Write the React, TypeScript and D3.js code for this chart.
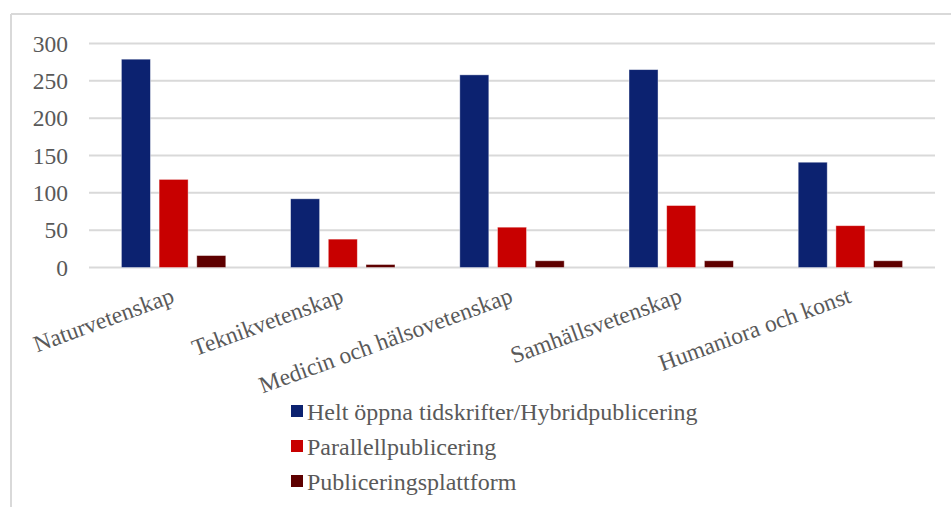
import React from "react";
import * as d3 from "d3";

const categories = [
  "Naturvetenskap",
  "Teknikvetenskap",
  "Medicin och hälsovetenskap",
  "Samhällsvetenskap",
  "Humaniora och konst",
];
const seriesNames = [
  "Helt öppna tidskrifter/Hybridpublicering",
  "Parallellpublicering",
  "Publiceringsplattform",
];
const openJournals = [279, 92, 258, 265, 141];
const parallel = [118, 38, 54, 83, 56];
const platform = [16, 4, 9, 9, 9];
const seriesValues = [openJournals, parallel, platform];
const colors = ["#0c2270", "#c80000", "#5e0000"];
const yTicks = [0, 50, 100, 150, 200, 250, 300];

const W = 951;
const H = 507;
const plotLeft = 89;
const plotRight = 935;
const yTop = 43.5;
const yBottom = 267.5;
const font = "'Liberation Serif', 'Times New Roman', serif";
const textColor = "#595959";

export default function App() {
  const x = d3.scaleBand<string>().domain(categories).range([plotLeft, plotRight]).paddingInner(0).paddingOuter(0);
  const y = d3.scaleLinear().domain([0, 300]).range([yBottom, yTop]);
  const groupSpan = 104.4;
  const inner = d3
    .scaleBand<number>()
    .domain([0, 1, 2])
    .range([-groupSpan / 2, groupSpan / 2])
    .paddingInner(0.23)
    .paddingOuter(0);

  return (
    <svg
      width={W}
      height={H}
      style={{ position: "absolute", left: 0, top: 0, display: "block", background: "#fff" }}
    >
      <rect x={0} y={0} width={W} height={H} fill="#fff" />
      {/* outer border */}
      <line x1={11} y1={14} x2={W} y2={14} stroke="#d9d9d9" strokeWidth={2} />
      <line x1={11} y1={14} x2={11} y2={H} stroke="#d9d9d9" strokeWidth={2} />

      {/* gridlines */}
      {yTicks.map((t) => (
        <line key={t} x1={plotLeft} x2={plotRight} y1={y(t)} y2={y(t)} stroke="#d9d9d9" strokeWidth={2} />
      ))}
      {/* y labels */}
      {yTicks.map((t) => (
        <text
          key={"l" + t}
          x={68}
          y={y(t)}
          dy="0.35em"
          textAnchor="end"
          fontFamily={font}
          fontSize={23.5}
          fill={textColor}
        >
          {t}
        </text>
      ))}

      {/* bars */}
      {categories.map((c, ci) => {
        const cx = (x(c) as number) + x.bandwidth() / 2;
        return seriesValues.map((vals, si) => (
          <rect
            key={c + si}
            x={cx + (inner(si) as number)}
            y={y(vals[ci])}
            width={inner.bandwidth()}
            height={y(0) - y(vals[ci])}
            fill={colors[si]}
            stroke="#ffffff"
            strokeOpacity={0.5}
            strokeWidth={0.8}
          />
        ));
      })}

      {/* category labels */}
      {categories.map((c) => {
        const cx = (x(c) as number) + x.bandwidth() / 2;
        return (
          <text
            key={"c" + c}
            transform={`translate(${cx + 2},${302}) rotate(-20)`}
            textAnchor="end"
            fontFamily={font}
            fontSize={23.5}
            fill={textColor}
          >
            {c}
          </text>
        );
      })}

      {/* legend */}
      {seriesNames.map((s, i) => (
        <g key={"lg" + s} transform={`translate(291,${405 + i * 35})`}>
          <rect x={0} y={0} width={12} height={12} fill={colors[i]} />
          <text x={16} y={15} fontFamily={font} fontSize={24} fill={textColor}>
            {s}
          </text>
        </g>
      ))}
    </svg>
  );
}
